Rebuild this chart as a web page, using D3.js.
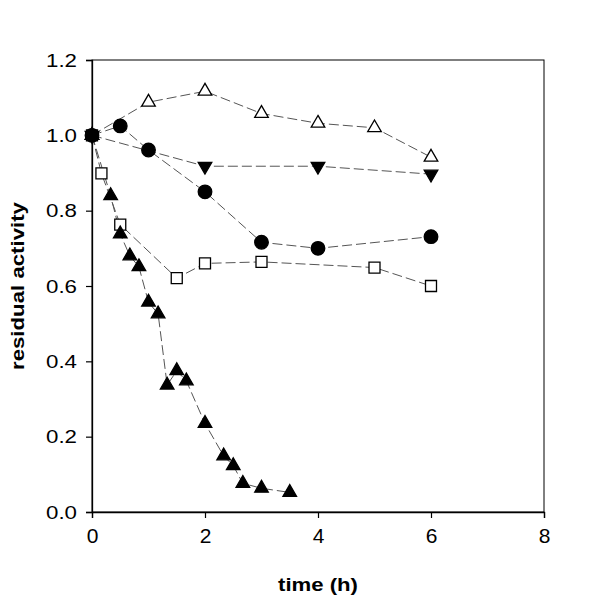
<!DOCTYPE html>
<html lang="en">
<head>
<meta charset="UTF-8">
<title>Residual activity over time</title>
<script src="https://d3js.org/d3.v7.min.js"></script>
<style>
  body { margin: 0; background: #fff; }
  text { font-family: "Liberation Sans", Arial, sans-serif; fill: #000; }
</style>
</head>
<body>
<svg width="600" height="600"></svg>
<script>
// data
var xTicks = [0, 2, 4, 6, 8];
var yTicks = [0.0, 0.2, 0.4, 0.6, 0.8, 1.0, 1.2];

var openTriT = [0, 1, 2, 3, 4, 5, 6];
var openTriV = [1.0, 1.088, 1.117, 1.058, 1.032, 1.02, 0.942];

var downTriT = [0, 2, 4, 6];
var downTriV = [1.0, 0.918, 0.918, 0.897];

var circleT = [0, 0.5, 1, 2, 3, 4, 6];
var circleV = [1.0, 1.025, 0.961, 0.85, 0.716, 0.70, 0.731];

var squareT = [0, 0.167, 0.5, 1.5, 2, 3, 5, 6];
var squareV = [1.0, 0.899, 0.763, 0.621, 0.66, 0.664, 0.649, 0.60];

var upTriT = [0, 0.33, 0.5, 0.67, 0.83, 1.0, 1.17, 1.33, 1.5, 1.67, 2.0, 2.33, 2.5, 2.67, 3.0, 3.5];
var upTriV = [1.0, 0.84, 0.738, 0.68, 0.651, 0.557, 0.526, 0.337, 0.375, 0.348, 0.235, 0.149, 0.123, 0.076, 0.063, 0.052];

var series = [
  { t: openTriT, v: openTriV, shape: d3.symbolTriangle, fill: "#fff", rot: 0, size: 80 },
  { t: squareT, v: squareV, shape: d3.symbolSquare, fill: "#fff", rot: 0, size: 121 },
  { t: downTriT, v: downTriV, shape: d3.symbolTriangle, fill: "#000", rot: 180, size: 80 },
  { t: circleT, v: circleV, shape: d3.symbolCircle, fill: "#000", rot: 0, size: 145 },
  { t: upTriT, v: upTriV, shape: d3.symbolTriangle, fill: "#000", rot: 0, size: 80 }
];

var svg = d3.select("svg");
var x = d3.scaleLinear().domain([0, 8]).range([92, 544]);
var y = d3.scaleLinear().domain([0, 1.2]).range([512, 60]);

// frame
svg.append("rect")
  .attr("x", x(0)).attr("y", y(1.2))
  .attr("width", x(8) - x(0)).attr("height", y(0) - y(1.2))
  .attr("fill", "none").attr("stroke", "#000").attr("stroke-width", 1);

var xAxis = svg.append("g")
  .attr("transform", "translate(0," + y(0) + ")")
  .call(d3.axisBottom(x).tickValues(xTicks).tickSize(6).tickFormat(d3.format("d")));
var yAxis = svg.append("g")
  .attr("transform", "translate(" + x(0) + ",0)")
  .call(d3.axisLeft(y).tickValues(yTicks).tickSize(6).tickFormat(d3.format(".1f")));

[xAxis, yAxis].forEach(function(a) {
  a.select(".domain").attr("stroke", "#000").attr("stroke-width", 1.3);
  a.selectAll(".tick line").attr("stroke", "#000").attr("stroke-width", 1.2);
});
xAxis.selectAll(".tick text")
  .attr("font-size", 21).attr("y", 16).attr("dy", "0.71em")
  .attr("font-family", "Liberation Sans, Arial, sans-serif");
yAxis.selectAll(".tick text")
  .attr("font-size", 19).attr("x", -15)
  .attr("textLength", 31).attr("lengthAdjust", "spacingAndGlyphs")
  .attr("font-family", "Liberation Sans, Arial, sans-serif");

// dashed connecting lines
var line = d3.line().x(function(d) { return x(d[0]); }).y(function(d) { return y(d[1]); });
series.forEach(function(s) {
  var pts = s.t.map(function(t, i) { return [t, s.v[i]]; });
  svg.append("path")
    .datum(pts)
    .attr("d", line)
    .attr("fill", "none")
    .attr("stroke", "#555")
    .attr("stroke-width", 1)
    .attr("stroke-dasharray", "10,4");
});

// markers
series.forEach(function(s) {
  var pts = s.t.map(function(t, i) { return [t, s.v[i]]; });
  svg.append("g").selectAll("path")
    .data(pts)
    .enter().append("path")
    .attr("d", d3.symbol().type(s.shape).size(s.size))
    .attr("transform", function(d) {
      return "translate(" + x(d[0]) + "," + y(d[1]) + ") rotate(" + s.rot + ")";
    })
    .attr("fill", s.fill)
    .attr("stroke", "#000")
    .attr("stroke-width", 1.3);
});

// axis titles
svg.append("text")
  .attr("x", (x(0) + x(8)) / 2).attr("y", 591)
  .attr("text-anchor", "middle")
  .attr("font-size", 19).attr("font-weight", "bold")
  .attr("textLength", 80).attr("lengthAdjust", "spacingAndGlyphs")
  .text("time (h)");

svg.append("text")
  .attr("transform", "translate(24," + (y(0) + y(1.2)) / 2 + ") rotate(-90)")
  .attr("text-anchor", "middle")
  .attr("font-size", 18).attr("font-weight", "bold")
  .attr("textLength", 168).attr("lengthAdjust", "spacingAndGlyphs")
  .text("residual activity");
</script>
</body>
</html>
